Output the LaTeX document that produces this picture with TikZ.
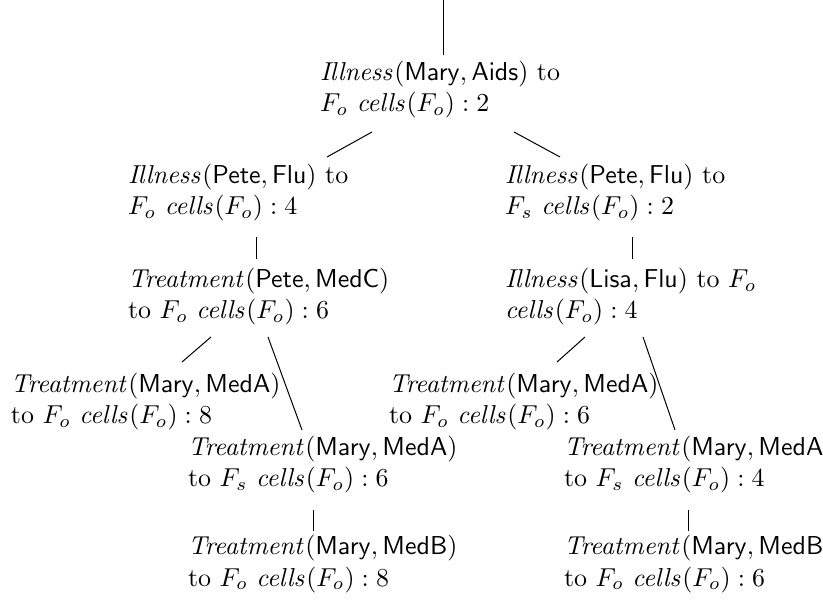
\documentclass[tikz,border=0pt]{standalone}
\begin{document}
\begin{tikzpicture}[x=0.386pt,y=-0.386pt,
  lbl/.style={anchor=base west, inner sep=0pt, outer sep=0pt, align=left, font=\fontsize{10}{12}\selectfont},
  conn/.style={line width=0.386pt}]
\useasboundingbox (0,0) rectangle (823,604);
\clip (0,0) rectangle (823,604);
% nodes (anchor = baseline of the second line)
\node[lbl] (root) at (320,112) {$\mathit{Illness}(\mathsf{Mary},\mathsf{Aids})$ to\\$F_o$ $\mathit{cells}(F_o):2$};
\node[lbl] (a) at (128,215) {$\mathit{Illness}(\mathsf{Pete},\mathsf{Flu})$ to\\$F_o$ $\mathit{cells}(F_o):4$};
\node[lbl] (b) at (505,215) {$\mathit{Illness}(\mathsf{Pete},\mathsf{Flu})$ to\\$F_s$ $\mathit{cells}(F_o):2$};
\node[lbl] (a1) at (128,319) {$\mathit{Treatment}(\mathsf{Pete},\mathsf{MedC})$\\to $F_o$ $\mathit{cells}(F_o):6$};
\node[lbl] (b1) at (505,319) {$\mathit{Illness}(\mathsf{Lisa},\mathsf{Flu})$ to $F_o$\\$\mathit{cells}(F_o):4$};
\node[lbl] (a11) at (11,424) {$\mathit{Treatment}(\mathsf{Mary},\mathsf{MedA})$\\to $F_o$ $\mathit{cells}(F_o):8$};
\node[lbl] (a12) at (188,487) {$\mathit{Treatment}(\mathsf{Mary},\mathsf{MedA})$\\to $F_s$ $\mathit{cells}(F_o):6$};
\node[lbl] (a121) at (188,586) {$\mathit{Treatment}(\mathsf{Mary},\mathsf{MedB})$\\to $F_o$ $\mathit{cells}(F_o):8$};
\node[lbl] (b11) at (389,424) {$\mathit{Treatment}(\mathsf{Mary},\mathsf{MedA})$\\to $F_o$ $\mathit{cells}(F_o):6$};
\node[lbl] (b12) at (564,487) {$\mathit{Treatment}(\mathsf{Mary},\mathsf{MedA})$\\to $F_s$ $\mathit{cells}(F_o):4$};
\node[lbl] (b121) at (564,586) {$\mathit{Treatment}(\mathsf{Mary},\mathsf{MedB})$\\to $F_o$ $\mathit{cells}(F_o):6$};
% connector ends
\coordinate (top) at (443.5,0);
\coordinate (rootT) at (443.5,55);
\coordinate (rootL) at (372,132);
\coordinate (aT) at (327,157);
\coordinate (rootR) at (514,132);
\coordinate (bT) at (560,157);
\coordinate (aB) at (256.5,237);
\coordinate (a1T) at (256.5,259);
\coordinate (bB) at (632.5,237);
\coordinate (b1T) at (632.5,259);
\coordinate (a1L) at (211,337);
\coordinate (a11T) at (182,362);
\coordinate (a1R) at (268,337);
\coordinate (a12T) at (302,430);
\coordinate (a12B) at (313.5,510);
\coordinate (a121T) at (313.5,531);
\coordinate (b1L) at (585,337);
\coordinate (b11T) at (557,362);
\coordinate (b1R) at (643,337);
\coordinate (b12T) at (675,430);
\coordinate (b12B) at (688.5,510);
\coordinate (b121T) at (688.5,531);
% connectors
\draw[conn] (top) -- (rootT);
\draw[conn] (rootL) -- (aT);
\draw[conn] (rootR) -- (bT);
\draw[conn] (aB) -- (a1T);
\draw[conn] (bB) -- (b1T);
\draw[conn] (a1L) -- (a11T);
\draw[conn] (a1R) -- (a12T);
\draw[conn] (a12B) -- (a121T);
\draw[conn] (b1L) -- (b11T);
\draw[conn] (b1R) -- (b12T);
\draw[conn] (b12B) -- (b121T);
\end{tikzpicture}
\end{document}
